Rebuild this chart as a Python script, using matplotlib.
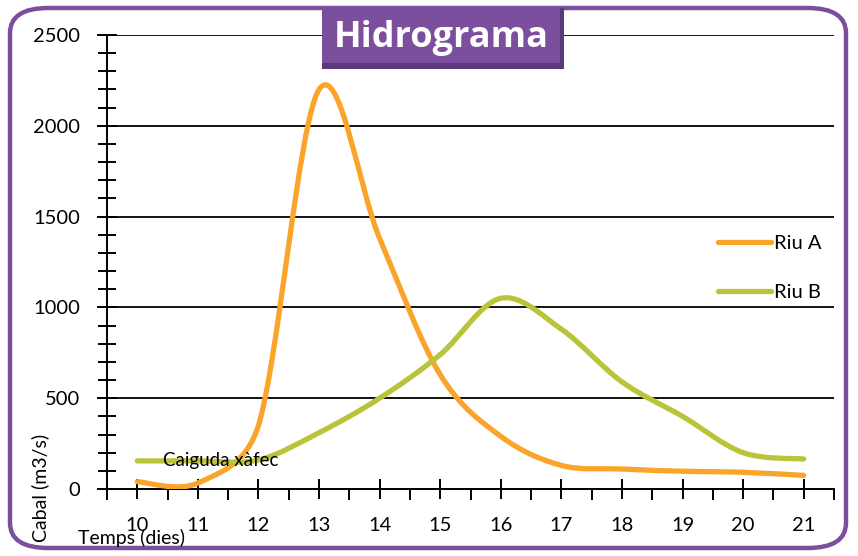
import numpy as np
import matplotlib.pyplot as plt
from matplotlib.path import Path
from matplotlib.patches import PathPatch, FancyBboxPatch, Rectangle
from matplotlib.lines import Line2D
from matplotlib.ticker import MultipleLocator

plt.rcParams['font.family'] = ['Lato', 'DejaVu Sans']

# days on the x axis
dies = [10, 11, 12, 13, 14, 15, 16, 17, 18, 19, 20, 21]
# flow (m3/s)
riu_a = [40, 33, 350, 2200, 1380, 630, 290, 130, 110, 98, 92, 75]
riu_b = [155, 155, 160, 310, 500, 740, 1050, 880, 590, 400, 200, 165]

c_a = '#FBA42A'
c_b = '#BAC43A'
purple = '#7B4F9D'


def smooth_path(ax, x, y):
    # Excel-style smoothed line, control points worked out in screen space
    pts = ax.transData.transform(np.column_stack([x, y]).astype(float))
    n = len(pts)
    verts = [pts[0]]
    codes = [Path.MOVETO]
    for i in range(n - 1):
        p0 = pts[max(i - 1, 0)]
        p1 = pts[i]
        p2 = pts[i + 1]
        p3 = pts[min(i + 2, n - 1)]
        d12 = np.hypot(*(p2 - p1))
        d02 = np.hypot(*(p2 - p0))
        d13 = np.hypot(*(p3 - p1))
        f1 = 1 / 6
        f2 = 1 / 6
        if d02 / 6 > d12 / 2 and d02 > 0:
            f1 = d12 / (2 * d02)
        if d13 / 6 > d12 / 2 and d13 > 0:
            f2 = d12 / (2 * d13)
        verts += [p1 + (p2 - p0) * f1, p2 - (p3 - p1) * f2, p2]
        codes += [Path.CURVE4] * 3
    verts = ax.transData.inverted().transform(np.array(verts))
    return Path(verts, codes)


fig = plt.figure(figsize=(8.58, 5.56), dpi=100)
ax = fig.add_axes([107 / 858, 67 / 556, 727 / 858, 454 / 556])
ax.set_xlim(9.5, 21.5)
ax.set_ylim(0, 2500)

for ys, c in [(riu_a, c_a), (riu_b, c_b)]:
    ax.add_patch(PathPatch(smooth_path(ax, dies, ys), fill=False, edgecolor=c,
                           lw=3.8, capstyle='round', joinstyle='round', zorder=3))

ax.xaxis.set_major_locator(MultipleLocator(1))
ax.xaxis.set_minor_locator(MultipleLocator(0.5))
ax.yaxis.set_major_locator(MultipleLocator(500))
ax.yaxis.set_minor_locator(MultipleLocator(100))
ax.set_xticks(dies)
ax.set_xticklabels([str(d) for d in dies])

for s in ['top', 'right']:
    ax.spines[s].set_visible(False)
for s in ['left', 'bottom']:
    ax.spines[s].set_linewidth(1.4)
    ax.spines[s].set_zorder(2)

ax.tick_params(axis='y', which='major', direction='inout', length=15, width=1.4,
               labelsize=14.5, pad=12)
ax.tick_params(axis='y', which='minor', direction='inout', length=13, width=1.4)
ax.tick_params(axis='x', which='major', direction='inout', length=14, width=1.4,
               labelsize=14.5, pad=13)
ax.tick_params(axis='x', which='minor', direction='out', length=8, width=1.4)

ax.grid(axis='y', which='major', color='black', lw=1.3)
ax.set_axisbelow(True)

ax.text(10.42, 155, 'Caiguda xàfec', fontsize=13.5, va='center', ha='left', zorder=4)

# legend
handles = [Line2D([], [], color=c_a, lw=3.8, solid_capstyle='round'),
           Line2D([], [], color=c_b, lw=3.8, solid_capstyle='round')]
leg = ax.legend(handles, ['Riu A', 'Riu B'], loc='upper left',
                bbox_to_anchor=(0.841, 0.56), frameon=False, fontsize=14.5,
                handlelength=2.6, handletextpad=0.15, labelspacing=1.6,
                borderaxespad=0, borderpad=0)

fig.text(40 / 858, 1 - 488 / 556, 'Cabal (m3/s)', rotation=90, fontsize=14,
         ha='center', va='center')
fig.text(131 / 858, 1 - 538 / 556, 'Temps (dies)', fontsize=14,
         ha='center', va='center')

# rounded purple frame
fig.patches.append(FancyBboxPatch((10 / 858, 8 / 556), 836 / 858, 540 / 556,
                                  boxstyle='round,pad=0,rounding_size=0.045',
                                  transform=fig.transFigure, fill=False,
                                  edgecolor=purple, lw=3.2, zorder=0))

# title box with shadow
fig.patches.append(Rectangle((322 / 858, 1 - 69 / 556), 242 / 858, 61 / 556,
                             transform=fig.transFigure, facecolor='#5A3A7C',
                             edgecolor='none', zorder=5))
fig.patches.append(Rectangle((322 / 858, 1 - 63 / 556), 238 / 858, 55 / 556,
                             transform=fig.transFigure, facecolor=purple,
                             edgecolor='none', zorder=6))
fig.text(441 / 858, 1 - 38 / 556, 'Hidrograma', color='white', fontsize=26,
         fontweight='bold', ha='center', va='center', zorder=7,
         family=['Open Sans', 'DejaVu Sans'])

fig.savefig('out.png', dpi=100)
